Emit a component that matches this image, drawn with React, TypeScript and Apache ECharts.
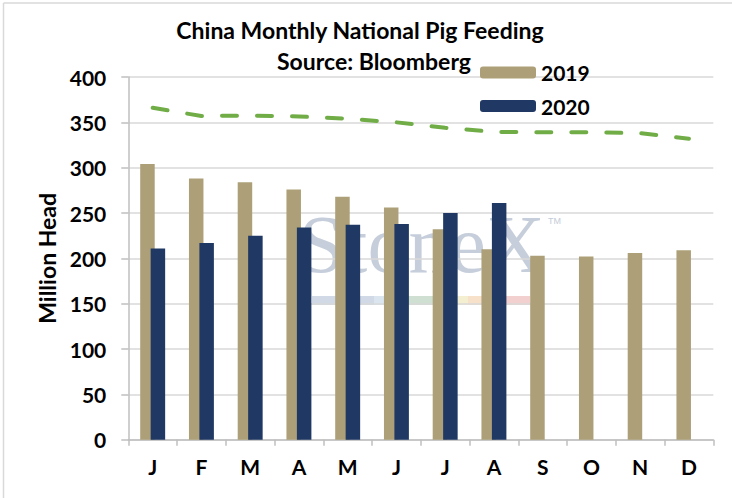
import React, { useEffect, useRef } from "react";
import * as echarts from "echarts";

const months = ["J", "F", "M", "A", "M", "J", "J", "A", "S", "O", "N", "D"];
const s2019 = [304, 288, 284, 276, 268, 256, 232, 210, 203, 202, 206, 209];
const s2020 = [211, 217, 225, 234, 237, 238, 250, 261, null, null, null, null];
const s2018 = [366, 357, 357.5, 356.5, 354, 350, 344, 339.5, 339, 339, 338, 332];
const yTicks = { min: 0, max: 400, interval: 50 };

const FONT = "Lato, 'Open Sans', 'DejaVu Sans', sans-serif";

export default function App() {
  const ref = useRef<HTMLDivElement>(null);
  useEffect(() => {
    if (!ref.current) return;
    const chart = echarts.init(ref.current, null, { renderer: "svg" });
    chart.setOption({
      animation: false,
      backgroundColor: "#ffffff",
      textStyle: { fontFamily: FONT },
      grid: { left: 128.3, right: 18.7, top: 77, bottom: 58.3, containLabel: false },
      legend: {
        data: ["2019", "2020"],
        orient: "vertical",
        left: 475,
        top: 57,
        padding: 5,
        itemWidth: 56,
        itemHeight: 12,
        itemGap: 12.5,
        textStyle: { fontSize: 21, fontWeight: "bold", color: "#000", fontFamily: FONT },
      },
      xAxis: {
        type: "category",
        data: months,
        axisLine: { show: true, lineStyle: { color: "#bfbfbf", width: 1.5 } },
        axisTick: { show: true, length: 6, inside: false, lineStyle: { color: "#bfbfbf", width: 1.5 } },
        axisLabel: { fontSize: 21, fontWeight: "bold", color: "#000", margin: 16, fontFamily: FONT },
        splitLine: { show: false },
      },
      yAxis: {
        type: "value",
        min: yTicks.min,
        max: yTicks.max,
        interval: yTicks.interval,
        name: "Million Head",
        nameLocation: "middle",
        nameRotate: 90,
        nameGap: 70,
        nameTextStyle: { fontSize: 23, fontWeight: "bold", color: "#000", fontFamily: FONT },
        axisLine: { show: true, lineStyle: { color: "#bfbfbf", width: 1.5 } },
        axisTick: { show: true, length: 7, lineStyle: { color: "#bfbfbf", width: 1.5 } },
        axisLabel: { fontSize: 21, fontWeight: "bold", color: "#000", margin: 22, fontFamily: FONT },
        splitLine: { show: true, lineStyle: { color: "#d9d9d9", width: 1.5 } },
      },
      graphic: [
        { type: "line", shape: { x1: 3.5, y1: 3, x2: 3.5, y2: 498 }, style: { stroke: "#d9d9d9", lineWidth: 1.5 }, silent: true },
        { type: "line", shape: { x1: 3.5, y1: 3, x2: 732, y2: 3 }, style: { stroke: "#d9d9d9", lineWidth: 1.5 }, silent: true },
        {
          type: "text",
          x: 360,
          y: 30,
          style: { text: "China Monthly National Pig Feeding", fontSize: 23, fontWeight: "bold", fill: "#000", fontFamily: FONT, textAlign: "center", textVerticalAlign: "middle" },
        },
        {
          type: "text",
          x: 374,
          y: 61,
          style: { text: "Source: Bloomberg", fontSize: 23, fontWeight: "bold", fill: "#000", fontFamily: FONT, textAlign: "center", textVerticalAlign: "middle" },
        },
        {
          type: "group",
          z: -10,
          silent: true,
          children: [
            {
              type: "text",
              x: 299,
              y: 203,
              style: { text: "StoneX", fontSize: 82, fontFamily: "'Liberation Serif', 'DejaVu Serif', serif", fill: "#bfc9d6", opacity: 0.9 },
            },
            { type: "text", x: 548, y: 216, style: { text: "TM", fontSize: 9, fontFamily: "'Liberation Sans', sans-serif", fill: "#c3ccd8" } },
            { type: "rect", shape: { x: 312, y: 296, width: 62, height: 9 }, style: { fill: "#d0d9e5" } },
            { type: "rect", shape: { x: 374, y: 296, width: 34, height: 9 }, style: { fill: "#dae5f0" } },
            { type: "rect", shape: { x: 408, y: 296, width: 26, height: 9 }, style: { fill: "#cfe0d2" } },
            { type: "rect", shape: { x: 434, y: 296, width: 24, height: 9 }, style: { fill: "#ecf0e0" } },
            { type: "rect", shape: { x: 458, y: 296, width: 10, height: 9 }, style: { fill: "#f5efd2" } },
            { type: "rect", shape: { x: 468, y: 296, width: 29, height: 9 }, style: { fill: "#f7e1ca" } },
            { type: "rect", shape: { x: 497, y: 296, width: 33, height: 9 }, style: { fill: "#f2d0d0" } },
          ],
        },
      ],
      series: [
        {
          name: "2019",
          type: "bar",
          data: s2019,
          barWidth: 14.5,
          barGap: "-28%",
          itemStyle: { color: "#ad9f77" },
          z: 3,
        },
        {
          name: "2020",
          type: "bar",
          data: s2020,
          barWidth: 14.5,
          itemStyle: { color: "#203864" },
          z: 3,
        },
        {
          name: "2018",
          type: "line",
          data: s2018,
          symbol: "none",
          smooth: false,
          lineStyle: { color: "#70ad47", width: 4, type: [15, 20], cap: "round" },
          z: 4,
        },
      ],
    });
    return () => chart.dispose();
  }, []);
  return <div ref={ref} style={{ position: "fixed", left: 0, top: 0, width: 732, height: 498 }} />;
}
